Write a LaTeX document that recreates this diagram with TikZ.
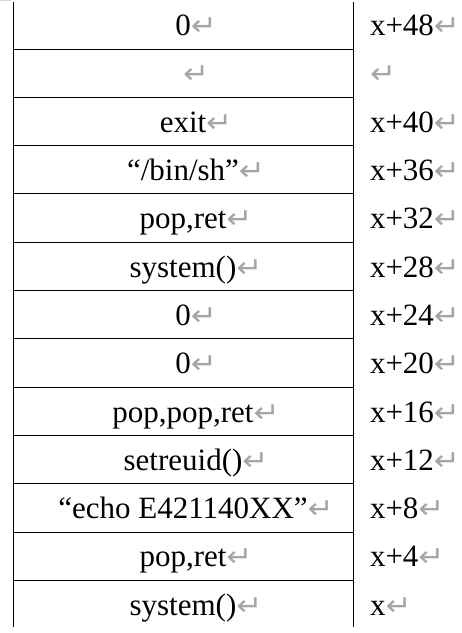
\documentclass[tikz,border=0pt]{standalone}
\usepackage{fontspec}
\setmainfont{Liberation Serif}
\newfontfamily\markfont{DejaVu Sans}
\usetikzlibrary{positioning}
\definecolor{markgray}{RGB}{165,165,165}
\newcommand{\retmark}{{\markfont\fontsize{27}{27}\selectfont\textcolor{markgray}{\scalebox{1.15}[1.05]{↵}}}}

\begin{document}
\begin{tikzpicture}[x=1pt, y=1pt, node distance=48.3pt, on grid,
    cell/.style={inner sep=0pt, text height=17pt, text depth=5pt, font=\fontsize{31}{31}\selectfont},
    addr/.style={cell, text width=90pt, align=left},
    rule/.style={line width=0.8pt}]
    \useasboundingbox (0,0) rectangle (462,633);

    \node[cell] (l0) at (183,603.3) {0\rlap{\retmark}};
    \node[cell] (l1) [below=of l0] {\rlap{\retmark}};
    \node[cell] (l2) [below=of l1] {exit\rlap{\retmark}};
    \node[cell] (l3) [below=of l2] {“/bin/sh”\rlap{\retmark}};
    \node[cell] (l4) [below=of l3] {pop,ret\rlap{\retmark}};
    \node[cell] (l5) [below=of l4] {system()\rlap{\retmark}};
    \node[cell] (l6) [below=of l5] {0\rlap{\retmark}};
    \node[cell] (l7) [below=of l6] {0\rlap{\retmark}};
    \node[cell] (l8) [below=of l7] {pop,pop,ret\rlap{\retmark}};
    \node[cell] (l9) [below=of l8] {setreuid()\rlap{\retmark}};
    \node[cell] (l10) [below=of l9] {“echo E421140XX”\rlap{\retmark}};
    \node[cell] (l11) [below=of l10] {pop,ret\rlap{\retmark}};
    \node[cell] (l12) [below=of l11] {system()\rlap{\retmark}};

    \node[addr] (r0) [right=232pt of l0] {x+48\retmark};
    \node[addr] (r1) [below=of r0] {\retmark};
    \node[addr] (r2) [below=of r1] {x+40\retmark};
    \node[addr] (r3) [below=of r2] {x+36\retmark};
    \node[addr] (r4) [below=of r3] {x+32\retmark};
    \node[addr] (r5) [below=of r4] {x+28\retmark};
    \node[addr] (r6) [below=of r5] {x+24\retmark};
    \node[addr] (r7) [below=of r6] {x+20\retmark};
    \node[addr] (r8) [below=of r7] {x+16\retmark};
    \node[addr] (r9) [below=of r8] {x+12\retmark};
    \node[addr] (r10) [below=of r9] {x+8\retmark};
    \node[addr] (r11) [below=of r10] {x+4\retmark};
    \node[addr] (r12) [below=of r11] {x\retmark};

    \draw[gray!30] (0,632.5) -- (11,632.5);
    \draw[rule] (13,630.5) -- (13,5.5);
    \draw[rule] (353,630.5) -- (353,5.5);
    \foreach \i in {0,...,11}
        \draw[rule] (13,{584-48.3*\i}) -- (353,{584-48.3*\i});
\end{tikzpicture}
\end{document}
